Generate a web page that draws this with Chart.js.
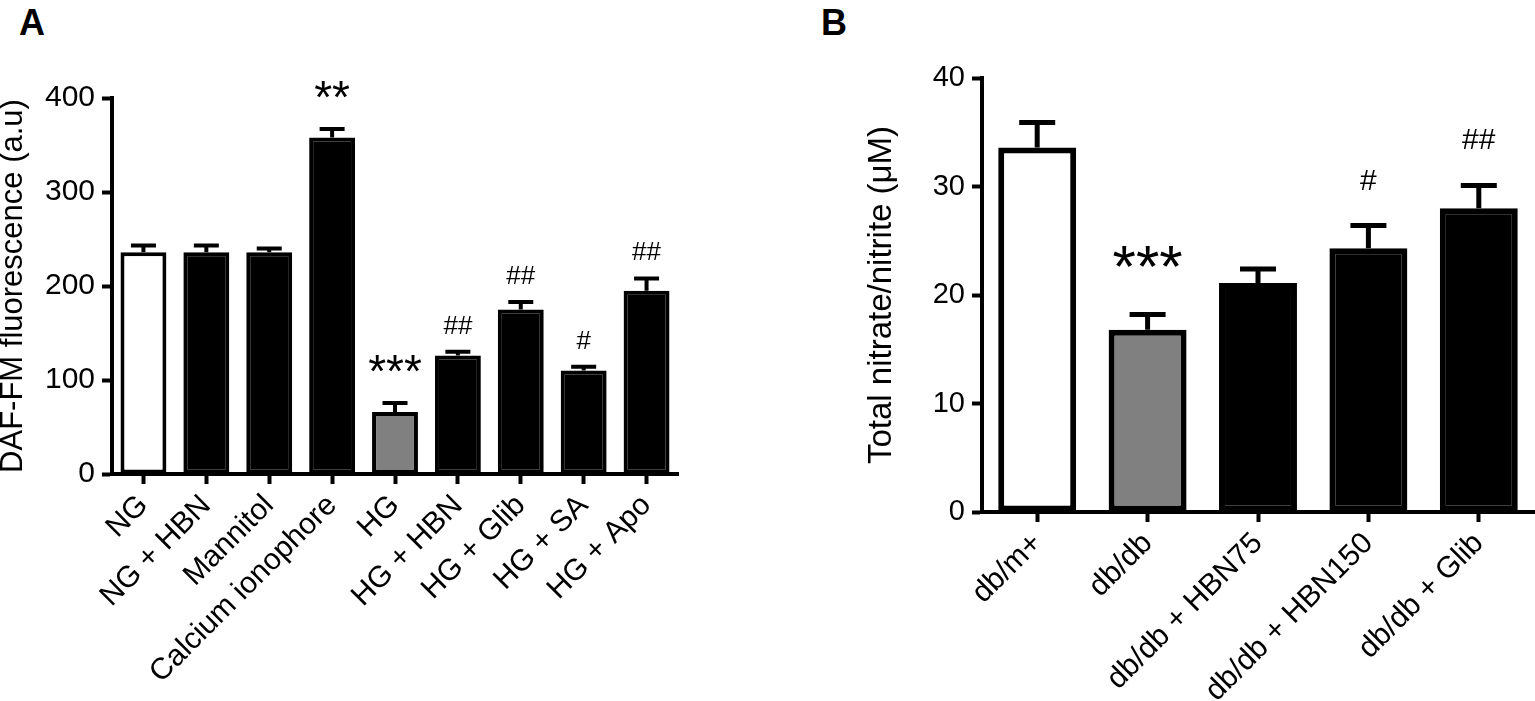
<!DOCTYPE html>
<html>
<head>
<meta charset="utf-8">
<script src="https://cdn.jsdelivr.net/npm/chart.js@4.4.1/dist/chart.umd.min.js"></script>
<style>
  body { margin: 0; background: #fff; width: 1535px; height: 701px; overflow: hidden; position: relative; }
  #wrapA { position: absolute; left: 0; top: 0; width: 760px; height: 701px; }
  #wrapB { position: absolute; left: 800px; top: 0; width: 735px; height: 701px; }
  .panel { position: absolute; font-family: "Liberation Sans Narrow", "Liberation Sans", Arial, sans-serif;
           font-weight: bold; font-size: 36px; line-height: 1; color: #000; }
</style>
</head>
<body>
<div class="panel" style="left:19px; top:5px">A</div>
<div class="panel" style="left:821px; top:5px">B</div>
<div id="wrapA"><canvas id="chartA"></canvas></div>
<div id="wrapB"><canvas id="chartB"></canvas></div>
<script>
// panel A: DAF-FM fluorescence
const catsA = ['NG', 'NG + HBN', 'Mannitol', 'Calcium ionophore', 'HG', 'HG + HBN', 'HG + Glib', 'HG + SA', 'HG + Apo'];
const meanA = [236, 236, 236, 358, 66, 126, 175, 110, 195];
const errA  = [243, 243, 240, 367, 75.5, 130, 183, 114, 208];
const sigA  = ['', '', '', '**', '***', '##', '##', '#', '##'];
const ticksA = [0, 100, 200, 300, 400];

// panel B: total nitrate/nitrite
const catsB = ['db/m+', 'db/db', 'db/db + HBN75', 'db/db + HBN150', 'db/db + Glib'];
const meanB = [33.6, 16.8, 21.1, 24.3, 28.0];
const errB  = [35.9, 18.2, 22.4, 26.4, 30.1];
const sigB  = ['', '***', '', '#', '##'];
const ticksB = [0, 10, 20, 30, 40];

const fillA = ['#ffffff', '#000000', '#000000', '#000000', '#808080', '#000000', '#000000', '#000000', '#000000'];
const fillB = ['#ffffff', '#808080', '#000000', '#000000', '#000000'];

const FONT = '"Liberation Sans", Arial, sans-serif';

// upper-only error bars plus significance marks
const errorBars = {
    id: 'errorBars',
    afterDatasetsDraw(chart, args, opts) {
        const ctx = chart.ctx;
        const y = chart.scales.y;
        const meta = chart.getDatasetMeta(0);
        ctx.save();
        ctx.strokeStyle = '#000';
        ctx.fillStyle = '#000';
        ctx.lineWidth = opts.lineWidth;
        meta.data.forEach((bar, i) => {
            const top = y.getPixelForValue(opts.errors[i]);
            ctx.beginPath();
            ctx.moveTo(bar.x, bar.y);
            ctx.lineTo(bar.x, top);
            ctx.moveTo(bar.x - opts.cap / 2, top);
            ctx.lineTo(bar.x + opts.cap / 2, top);
            ctx.stroke();

            const mark = opts.marks[i];
            if (!mark) return;
            const star = mark.indexOf('*') >= 0;
            ctx.font = (star ? opts.starSize : opts.hashSize) + 'px ' + FONT;
            ctx.textAlign = 'center';
            ctx.textBaseline = 'alphabetic';
            const m = ctx.measureText(mark);
            const centre = top - (star ? opts.starGap : opts.hashGap);
            const base = centre + (m.actualBoundingBoxAscent - m.actualBoundingBoxDescent) / 2;
            ctx.fillText(mark, bar.x, base);
        });
        ctx.restore();
    }
};

function axisStyle(size) {
    return {
        grid: { display: true, drawOnChartArea: false, drawTicks: true, tickLength: 10,
                tickWidth: 4, tickColor: '#000', offset: false },
        border: { display: true, width: 4, color: '#000' },
        ticks: { color: '#000', font: { family: FONT, size: size } }
    };
}

function makeChart(id, cats, means, fills, cfg) {
    const x = axisStyle(cfg.xFont);
    x.offset = true;
    x.ticks.maxRotation = 45;
    x.ticks.minRotation = 45;
    x.ticks.autoSkip = false;
    x.ticks.padding = cfg.xPad;
    x.afterFit = s => { s.height = cfg.xHeight; };

    const y = axisStyle(cfg.yFont);
    y.min = cfg.ticks[0];
    y.max = cfg.ticks[cfg.ticks.length - 1];
    y.afterBuildTicks = s => { s.ticks = cfg.ticks.map(v => ({ value: v })); };
    y.ticks.padding = 7;
    y.title = { display: true, text: cfg.title, color: '#000',
                font: { family: FONT, size: cfg.titleSize, lineHeight: cfg.titleLH },
                padding: { top: cfg.titlePad, bottom: 0 } };
    y.afterFit = s => { s.width = cfg.yWidth; };

    return new Chart(document.getElementById(id).getContext('2d'), {
        type: 'bar',
        data: {
            labels: cats,
            datasets: [{
                data: means,
                backgroundColor: fills,
                borderColor: '#000',
                borderWidth: cfg.barBorder,
                borderSkipped: false,
                barPercentage: cfg.barPct,
                categoryPercentage: 1
            }]
        },
        options: {
            responsive: true,
            maintainAspectRatio: false,
            animation: false,
            layout: { padding: cfg.padding },
            plugins: {
                legend: { display: false },
                tooltip: { enabled: false },
                errorBars: cfg.err
            },
            scales: { x: x, y: y }
        },
        plugins: [errorBars]
    });
}

makeChart('chartA', catsA, meanA, fillA, {
    ticks: ticksA, title: 'DAF-FM fluorescence (a.u)', titleSize: 31, titleLH: 0.9, titlePad: 0,
    xFont: 30, yFont: 30, xPad: 4, xHeight: 227, yWidth: 112,
    padding: { top: 98, right: 82, left: 0, bottom: 0 },
    barBorder: 4, barPct: 0.73,
    err: { errors: errA, marks: sigA, lineWidth: 4, cap: 25,
           hashSize: 26, starSize: 46, hashGap: 27, starGap: 40 }
});

makeChart('chartB', catsB, meanB, fillB, {
    ticks: ticksB, title: 'Total nitrate/nitrite (\u03bcM)', titleSize: 33, titleLH: 1.2, titlePad: 62,
    xFont: 30, yFont: 29, xPad: 4, xHeight: 189, yWidth: 182,
    padding: { top: 78, right: 1, left: 0, bottom: 0 },
    barBorder: 6, barPct: 0.706,
    err: { errors: errB, marks: sigB, lineWidth: 5, cap: 36,
           hashSize: 30, starSize: 60, hashGap: 46, starGap: 58 }
});
</script>
</body>
</html>
